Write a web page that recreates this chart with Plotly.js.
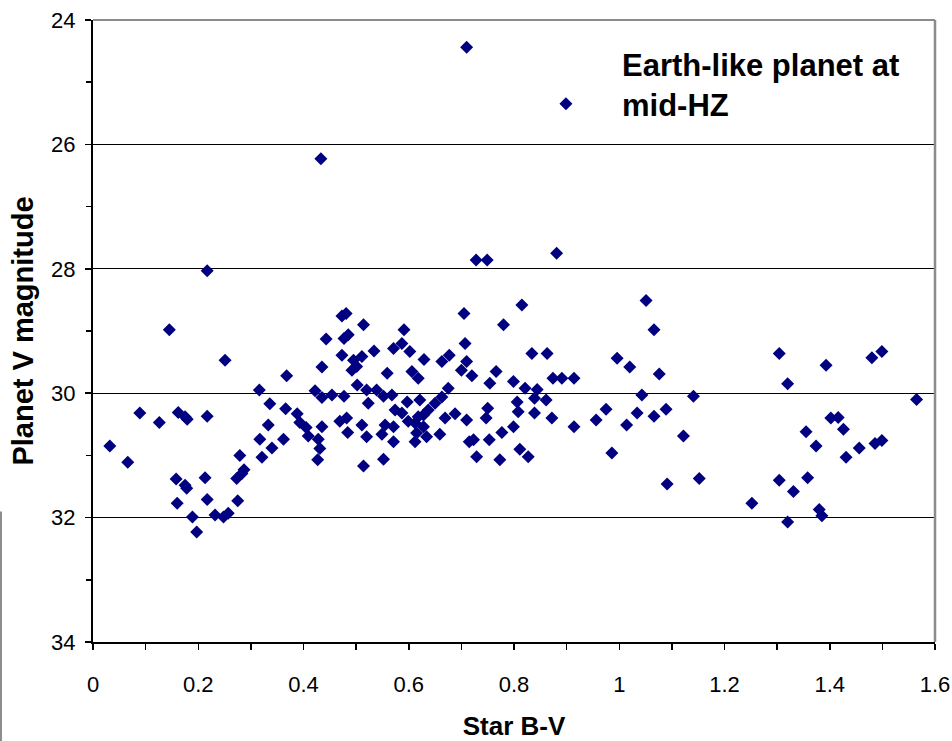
<!DOCTYPE html>
<html>
<head>
<meta charset="utf-8">
<script src="https://cdn.plot.ly/plotly-3.0.1.min.js"></script>
<style>
  html, body { margin: 0; padding: 0; background: #fff; }
  #chart { width: 952px; height: 741px; }
</style>
</head>
<body>
<div id="chart"></div>
<script>
// Star B-V colour index
const starBV = [
  0.032, 0.066, 0.089, 0.126, 0.145, 0.162, 0.175, 0.179, 0.217, 0.217,
  0.251, 0.158, 0.175, 0.178, 0.160, 0.189, 0.197, 0.213, 0.217, 0.232,
  0.248, 0.257, 0.275, 0.273, 0.283, 0.287, 0.279, 0.316, 0.336, 0.368,
  0.366, 0.333, 0.317, 0.362, 0.340, 0.321, 0.388, 0.393, 0.405, 0.409,
  0.428, 0.431, 0.427, 0.435, 0.422, 0.435, 0.454, 0.477, 0.520, 0.523,
  0.435, 0.443, 0.473, 0.481, 0.514, 0.477, 0.485, 0.473, 0.495, 0.511,
  0.492, 0.501, 0.502, 0.469, 0.482, 0.484, 0.511, 0.520, 0.514, 0.433,
  0.591, 0.571, 0.587, 0.602, 0.534, 0.629, 0.663, 0.677, 0.707, 0.705,
  0.700, 0.710, 0.559, 0.606, 0.618, 0.539, 0.552, 0.568, 0.597, 0.621,
  0.675, 0.663, 0.650, 0.637, 0.628, 0.574, 0.587, 0.599, 0.618, 0.612,
  0.628, 0.669, 0.688, 0.710, 0.555, 0.571, 0.549, 0.571, 0.612, 0.634,
  0.659, 0.615, 0.552, 0.715, 0.723, 0.710, 0.728, 0.749, 0.881, 0.815,
  0.780, 0.834, 0.863, 0.720, 0.766, 0.754, 0.799, 0.821, 0.844, 0.874,
  0.891, 0.914, 0.861, 0.839, 0.806, 0.808, 0.839, 0.872, 0.750, 0.747,
  0.799, 0.777, 0.753, 0.811, 0.827, 0.729, 0.773, 0.914, 0.956, 0.975,
  0.986, 1.051, 1.066, 0.996, 1.020, 1.076, 1.043, 1.034, 1.014, 1.066,
  1.089, 1.091, 1.141, 1.122, 1.152, 1.252, 1.304, 1.320, 1.304, 1.331,
  1.320, 1.393, 1.480, 1.499, 1.565, 1.402, 1.416, 1.426, 1.355, 1.374,
  1.431, 1.456, 1.486, 1.499, 1.358, 1.380, 1.385
];

// Planet V magnitude
const planetV = [
  30.85, 31.11, 30.32, 30.47, 28.98, 30.31, 30.38, 30.42, 30.37, 28.03,
  29.47, 31.38, 31.48, 31.53, 31.77, 31.99, 32.23, 31.36, 31.71, 31.96,
  31.99, 31.93, 31.73, 31.37, 31.29, 31.23, 31.00, 29.95, 30.17, 29.72,
  30.25, 30.51, 30.74, 30.74, 30.88, 31.03, 30.33, 30.47, 30.55, 30.69,
  30.74, 30.89, 31.07, 30.54, 29.96, 30.07, 30.03, 30.05, 29.95, 30.16,
  29.58, 29.13, 28.76, 28.72, 28.90, 29.12, 29.06, 29.39, 29.47, 29.41,
  29.63, 29.57, 29.87, 30.45, 30.40, 30.63, 30.51, 30.70, 31.17, 26.23,
  28.98, 29.28, 29.20, 29.33, 29.32, 29.46, 29.49, 29.39, 29.20, 28.72,
  29.63, 29.49, 29.68, 29.65, 29.76, 29.95, 30.05, 30.03, 30.14, 30.11,
  29.92, 30.06, 30.16, 30.27, 30.35, 30.27, 30.32, 30.45, 30.38, 30.48,
  30.54, 30.40, 30.33, 30.43, 30.51, 30.54, 30.66, 30.78, 30.78, 30.70,
  30.66, 30.64, 31.06, 30.78, 30.75, 24.44, 27.86, 27.86, 27.75, 28.58,
  28.90, 29.36, 29.36, 29.72, 29.65, 29.84, 29.81, 29.92, 29.94, 29.76,
  29.76, 29.76, 30.11, 30.08, 30.14, 30.30, 30.32, 30.40, 30.24, 30.40,
  30.54, 30.63, 30.75, 30.90, 31.02, 31.02, 31.07, 30.54, 30.43, 30.26,
  30.96, 28.51, 28.98, 29.44, 29.58, 29.69, 30.03, 30.32, 30.51, 30.37,
  30.26, 31.46, 30.05, 30.69, 31.37, 31.77, 29.36, 29.85, 31.40, 31.58,
  32.07, 29.55, 29.43, 29.33, 30.10, 30.40, 30.39, 30.58, 30.62, 30.85,
  31.03, 30.88, 30.81, 30.76, 31.36, 31.87, 31.97
];

const seriesName = 'Earth-like planet at<br>mid-HZ';
const xTickVals = [0, 0.2, 0.4, 0.6, 0.8, 1, 1.2, 1.4, 1.6];
const xTickText = ['0', '0.2', '0.4', '0.6', '0.8', '1', '1.2', '1.4', '1.6'];
const yTickVals = [24, 26, 28, 30, 32, 34];
const yTickText = ['24', '26', '28', '30', '32', '34'];

const FONT = 'Liberation Sans, Arial, Helvetica, sans-serif';

const trace = {
  type: 'scatter',
  mode: 'markers',
  x: starBV,
  y: planetV,
  name: seriesName,
  marker: { symbol: 'diamond', size: 10, color: '#000080', line: { width: 0 } },
  hoverinfo: 'x+y'
};

const layout = {
  width: 952,
  height: 741,
  paper_bgcolor: '#ffffff',
  plot_bgcolor: '#ffffff',
  margin: { l: 93, r: 17, t: 20, b: 99, pad: 0 },
  font: { family: FONT, color: '#000', size: 20 },
  showlegend: true,
  legend: {
    x: 0.4952, xanchor: 'left',
    y: 0.973, yanchor: 'top',
    bgcolor: 'rgba(0,0,0,0)',
    borderwidth: 0,
    itemwidth: 102,
    font: { family: FONT, size: 31, weight: 'bold', color: '#000' },
    valign: 'bottom'
  },
  xaxis: {
    range: [0, 1.6],
    tickmode: 'array',
    tickvals: xTickVals,
    ticktext: xTickText,
    ticks: 'outside',
    ticklen: 6,
    tickwidth: 1.5,
    tickcolor: '#000',
    ticklabelstandoff: 16,
    minor: { dtick: 0.1, tick0: 0, ticks: 'outside', ticklen: 6, tickwidth: 1.5, tickcolor: '#000', showgrid: false },
    showline: true,
    linecolor: '#000',
    linewidth: 2,
    showgrid: false,
    zeroline: false,
    tickfont: { family: FONT, size: 22, color: '#000' },
    title: { text: 'Star B-V', font: { family: FONT, size: 26, weight: 'bold', color: '#000' }, standoff: 21 }
  },
  yaxis: {
    range: [34, 24],
    tickmode: 'array',
    tickvals: yTickVals,
    ticktext: yTickText,
    ticks: 'outside',
    ticklen: 6,
    tickwidth: 1.5,
    tickcolor: '#000',
    ticklabelstandoff: 5,
    minor: { dtick: 1, tick0: 24, ticks: 'outside', ticklen: 5, tickwidth: 1.5, tickcolor: '#000', showgrid: false },
    showline: true,
    linecolor: '#000',
    linewidth: 2,
    showgrid: true,
    gridcolor: '#000',
    gridwidth: 1,
    zeroline: false,
    tickfont: { family: FONT, size: 22, color: '#000' },
    title: { text: 'Planet V magnitude', font: { family: FONT, size: 29, weight: 'bold', color: '#000' }, standoff: 9 }
  },
  shapes: [
    { type: 'line', xref: 'paper', yref: 'paper', x0: 0, x1: 1, y0: 1, y1: 1, line: { color: '#8c8c8c', width: 2 }, layer: 'above' },
    { type: 'line', xref: 'paper', yref: 'paper', x0: 1, x1: 1, y0: 0, y1: 1, line: { color: '#8c8c8c', width: 2.5 }, layer: 'above' },
    { type: 'line', xref: 'paper', yref: 'paper', x0: -0.1093, x1: -0.1093, y0: 0.21, y1: -0.16, line: { color: '#8c8c8c', width: 2 }, layer: 'above' }
  ]
};

Plotly.newPlot('chart', [trace], layout, { staticPlot: true, displayModeBar: false });
</script>
</body>
</html>
